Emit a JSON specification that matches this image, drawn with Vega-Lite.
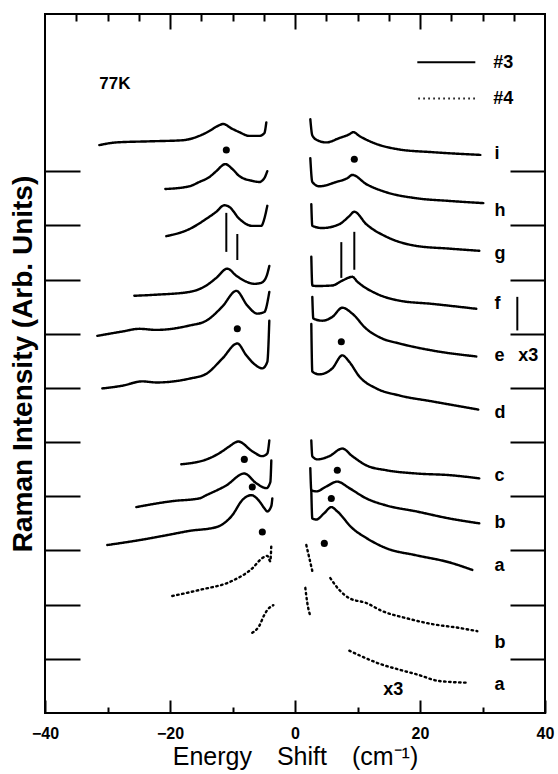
{
  "$schema": "https://vega.github.io/schema/vega-lite/v6.json",
  "width": 500,
  "height": 699,
  "autosize": {"type": "none"},
  "padding": {"left": 45, "top": 14, "right": 13, "bottom": 61},
  "background": "white",
  "config": {
    "view": {"stroke": "#000", "strokeWidth": 2},
    "axis": {"domain": false, "grid": false, "tickColor": "#000", "tickWidth": 2, "labels": false, "title": null}
  },
  "data": {"values": [
      {"k":"c","s":"i3L","g":"#3","x":-31.31,"y":10.48},{"k":"c","s":"i3L","g":"#3","x":-28.59,"y":10.53},{"k":"c","s":"i3L","g":"#3","x":-23.31,"y":10.55},{"k":"c","s":"i3L","g":"#3","x":-18.03,"y":10.57},{"k":"c","s":"i3L","g":"#3","x":-15.31,"y":10.65},{"k":"c","s":"i3L","g":"#3","x":-13.71,"y":10.74},{"k":"c","s":"i3L","g":"#3","x":-12.43,"y":10.83},{"k":"c","s":"i3L","g":"#3","x":-11.47,"y":10.87},{"k":"c","s":"i3L","g":"#3","x":-10.19,"y":10.79},{"k":"c","s":"i3L","g":"#3","x":-8.91,"y":10.72},{"k":"c","s":"i3L","g":"#3","x":-7.31,"y":10.65},{"k":"c","s":"i3L","g":"#3","x":-5.71,"y":10.65},{"k":"c","s":"i3L","g":"#3","x":-4.91,"y":10.70},{"k":"c","s":"i3L","g":"#3","x":-4.59,"y":10.90},
      {"k":"c","s":"i3R","g":"#3","x":2.45,"y":10.96},{"k":"c","s":"i3R","g":"#3","x":2.77,"y":10.66},{"k":"c","s":"i3R","g":"#3","x":3.57,"y":10.57},{"k":"c","s":"i3R","g":"#3","x":5.01,"y":10.53},{"k":"c","s":"i3R","g":"#3","x":7.09,"y":10.61},{"k":"c","s":"i3R","g":"#3","x":8.69,"y":10.68},{"k":"c","s":"i3R","g":"#3","x":9.33,"y":10.72},{"k":"c","s":"i3R","g":"#3","x":10.29,"y":10.65},{"k":"c","s":"i3R","g":"#3","x":12.37,"y":10.53},{"k":"c","s":"i3R","g":"#3","x":16.69,"y":10.40},{"k":"c","s":"i3R","g":"#3","x":21.97,"y":10.35},{"k":"c","s":"i3R","g":"#3","x":29.65,"y":10.30},
      {"k":"c","s":"h3L","g":"#3","x":-20.75,"y":9.67},{"k":"c","s":"h3L","g":"#3","x":-16.91,"y":9.72},{"k":"c","s":"h3L","g":"#3","x":-15.31,"y":9.80},{"k":"c","s":"h3L","g":"#3","x":-13.71,"y":9.89},{"k":"c","s":"h3L","g":"#3","x":-12.59,"y":10.00},{"k":"c","s":"h3L","g":"#3","x":-11.15,"y":10.13},{"k":"c","s":"h3L","g":"#3","x":-10.03,"y":10.04},{"k":"c","s":"h3L","g":"#3","x":-8.91,"y":9.91},{"k":"c","s":"h3L","g":"#3","x":-6.83,"y":9.82},{"k":"c","s":"h3L","g":"#3","x":-5.71,"y":9.80},{"k":"c","s":"h3L","g":"#3","x":-4.91,"y":9.87},{"k":"c","s":"h3L","g":"#3","x":-4.43,"y":10.00},
      {"k":"c","s":"h3R","g":"#3","x":2.45,"y":10.24},{"k":"c","s":"h3R","g":"#3","x":2.77,"y":9.80},{"k":"c","s":"h3R","g":"#3","x":3.89,"y":9.72},{"k":"c","s":"h3R","g":"#3","x":6.61,"y":9.80},{"k":"c","s":"h3R","g":"#3","x":8.37,"y":9.87},{"k":"c","s":"h3R","g":"#3","x":9.17,"y":9.93},{"k":"c","s":"h3R","g":"#3","x":11.41,"y":9.76},{"k":"c","s":"h3R","g":"#3","x":14.61,"y":9.61},{"k":"c","s":"h3R","g":"#3","x":19.41,"y":9.50},{"k":"c","s":"h3R","g":"#3","x":24.69,"y":9.45},{"k":"c","s":"h3R","g":"#3","x":30.13,"y":9.41},
      {"k":"c","s":"g3L","g":"#3","x":-20.59,"y":8.80},{"k":"c","s":"g3L","g":"#3","x":-16.91,"y":8.93},{"k":"c","s":"g3L","g":"#3","x":-14.19,"y":9.12},{"k":"c","s":"g3L","g":"#3","x":-12.59,"y":9.25},{"k":"c","s":"g3L","g":"#3","x":-11.31,"y":9.37},{"k":"c","s":"g3L","g":"#3","x":-10.51,"y":9.34},{"k":"c","s":"g3L","g":"#3","x":-8.91,"y":9.12},{"k":"c","s":"g3L","g":"#3","x":-6.83,"y":8.99},{"k":"c","s":"g3L","g":"#3","x":-5.39,"y":8.99},{"k":"c","s":"g3L","g":"#3","x":-4.91,"y":9.12},{"k":"c","s":"g3L","g":"#3","x":-4.43,"y":9.36},
      {"k":"c","s":"g3R","g":"#3","x":2.61,"y":9.39},{"k":"c","s":"g3R","g":"#3","x":2.77,"y":8.99},{"k":"c","s":"g3R","g":"#3","x":4.37,"y":8.95},{"k":"c","s":"g3R","g":"#3","x":7.09,"y":9.02},{"k":"c","s":"g3R","g":"#3","x":8.69,"y":9.17},{"k":"c","s":"g3R","g":"#3","x":9.49,"y":9.25},{"k":"c","s":"g3R","g":"#3","x":11.41,"y":9.02},{"k":"c","s":"g3R","g":"#3","x":14.61,"y":8.79},{"k":"c","s":"g3R","g":"#3","x":19.41,"y":8.62},{"k":"c","s":"g3R","g":"#3","x":24.69,"y":8.57},{"k":"c","s":"g3R","g":"#3","x":29.49,"y":8.53},
      {"k":"c","s":"f3L","g":"#3","x":-25.71,"y":7.70},{"k":"c","s":"f3L","g":"#3","x":-22.19,"y":7.72},{"k":"c","s":"f3L","g":"#3","x":-16.91,"y":7.77},{"k":"c","s":"f3L","g":"#3","x":-14.19,"y":7.89},{"k":"c","s":"f3L","g":"#3","x":-12.59,"y":8.03},{"k":"c","s":"f3L","g":"#3","x":-10.83,"y":8.20},{"k":"c","s":"f3L","g":"#3","x":-9.39,"y":8.07},{"k":"c","s":"f3L","g":"#3","x":-7.79,"y":7.96},{"k":"c","s":"f3L","g":"#3","x":-6.51,"y":7.92},{"k":"c","s":"f3L","g":"#3","x":-5.39,"y":7.94},{"k":"c","s":"f3L","g":"#3","x":-4.59,"y":8.05},{"k":"c","s":"f3L","g":"#3","x":-4.11,"y":8.25},
      {"k":"c","s":"f3R","g":"#3","x":2.61,"y":8.42},{"k":"c","s":"f3R","g":"#3","x":2.77,"y":7.89},{"k":"c","s":"f3R","g":"#3","x":3.41,"y":7.88},{"k":"c","s":"f3R","g":"#3","x":5.97,"y":7.89},{"k":"c","s":"f3R","g":"#3","x":7.57,"y":7.98},{"k":"c","s":"f3R","g":"#3","x":9.17,"y":8.05},{"k":"c","s":"f3R","g":"#3","x":9.97,"y":7.96},{"k":"c","s":"f3R","g":"#3","x":13.01,"y":7.74},{"k":"c","s":"f3R","g":"#3","x":16.69,"y":7.61},{"k":"c","s":"f3R","g":"#3","x":21.97,"y":7.55},{"k":"c","s":"f3R","g":"#3","x":29.01,"y":7.46},
      {"k":"c","s":"e3L","g":"#3","x":-31.63,"y":6.96},{"k":"c","s":"e3L","g":"#3","x":-27.63,"y":7.04},{"k":"c","s":"e3L","g":"#3","x":-24.91,"y":7.09},{"k":"c","s":"e3L","g":"#3","x":-22.19,"y":7.07},{"k":"c","s":"e3L","g":"#3","x":-16.91,"y":7.15},{"k":"c","s":"e3L","g":"#3","x":-14.19,"y":7.24},{"k":"c","s":"e3L","g":"#3","x":-11.63,"y":7.50},{"k":"c","s":"e3L","g":"#3","x":-9.39,"y":7.79},{"k":"c","s":"e3L","g":"#3","x":-7.63,"y":7.52},{"k":"c","s":"e3L","g":"#3","x":-6.03,"y":7.37},{"k":"c","s":"e3L","g":"#3","x":-4.91,"y":7.40},{"k":"c","s":"e3L","g":"#3","x":-4.11,"y":7.77},
      {"k":"c","s":"e3R","g":"#3","x":2.77,"y":7.68},{"k":"c","s":"e3R","g":"#3","x":2.93,"y":7.28},{"k":"c","s":"e3R","g":"#3","x":4.37,"y":7.24},{"k":"c","s":"e3R","g":"#3","x":5.97,"y":7.31},{"k":"c","s":"e3R","g":"#3","x":7.57,"y":7.48},{"k":"c","s":"e3R","g":"#3","x":9.17,"y":7.37},{"k":"c","s":"e3R","g":"#3","x":11.41,"y":7.09},{"k":"c","s":"e3R","g":"#3","x":13.97,"y":6.91},{"k":"c","s":"e3R","g":"#3","x":16.69,"y":6.82},{"k":"c","s":"e3R","g":"#3","x":21.97,"y":6.69},{"k":"c","s":"e3R","g":"#3","x":29.01,"y":6.58},
      {"k":"c","s":"d3L","g":"#3","x":-30.83,"y":5.99},{"k":"c","s":"d3L","g":"#3","x":-27.63,"y":6.04},{"k":"c","s":"d3L","g":"#3","x":-24.43,"y":6.12},{"k":"c","s":"d3L","g":"#3","x":-22.19,"y":6.10},{"k":"c","s":"d3L","g":"#3","x":-16.91,"y":6.17},{"k":"c","s":"d3L","g":"#3","x":-14.19,"y":6.26},{"k":"c","s":"d3L","g":"#3","x":-11.63,"y":6.54},{"k":"c","s":"d3L","g":"#3","x":-9.23,"y":6.82},{"k":"c","s":"d3L","g":"#3","x":-7.79,"y":6.60},{"k":"c","s":"d3L","g":"#3","x":-6.19,"y":6.41},{"k":"c","s":"d3L","g":"#3","x":-5.23,"y":6.36},{"k":"c","s":"d3L","g":"#3","x":-4.43,"y":6.48},{"k":"c","s":"d3L","g":"#3","x":-4.11,"y":7.24},
      {"k":"c","s":"d3R","g":"#3","x":2.61,"y":7.18},{"k":"c","s":"d3R","g":"#3","x":2.77,"y":6.30},{"k":"c","s":"d3R","g":"#3","x":3.89,"y":6.25},{"k":"c","s":"d3R","g":"#3","x":5.97,"y":6.36},{"k":"c","s":"d3R","g":"#3","x":7.57,"y":6.60},{"k":"c","s":"d3R","g":"#3","x":8.69,"y":6.48},{"k":"c","s":"d3R","g":"#3","x":10.29,"y":6.21},{"k":"c","s":"d3R","g":"#3","x":13.01,"y":5.99},{"k":"c","s":"d3R","g":"#3","x":16.69,"y":5.86},{"k":"c","s":"d3R","g":"#3","x":21.97,"y":5.75},{"k":"c","s":"d3R","g":"#3","x":29.33,"y":5.60},
      {"k":"c","s":"c3L","g":"#3","x":-18.19,"y":4.59},{"k":"c","s":"c3L","g":"#3","x":-13.71,"y":4.70},{"k":"c","s":"c3L","g":"#3","x":-11.63,"y":4.83},{"k":"c","s":"c3L","g":"#3","x":-10.51,"y":4.92},{"k":"c","s":"c3L","g":"#3","x":-9.07,"y":5.01},{"k":"c","s":"c3L","g":"#3","x":-6.83,"y":4.83},{"k":"c","s":"c3L","g":"#3","x":-5.23,"y":4.74},{"k":"c","s":"c3L","g":"#3","x":-4.43,"y":4.79},{"k":"c","s":"c3L","g":"#3","x":-4.11,"y":5.03},
      {"k":"c","s":"c3R","g":"#3","x":2.61,"y":5.03},{"k":"c","s":"c3R","g":"#3","x":2.77,"y":4.74},{"k":"c","s":"c3R","g":"#3","x":3.57,"y":4.68},{"k":"c","s":"c3R","g":"#3","x":5.49,"y":4.74},{"k":"c","s":"c3R","g":"#3","x":7.57,"y":4.88},{"k":"c","s":"c3R","g":"#3","x":9.17,"y":4.74},{"k":"c","s":"c3R","g":"#3","x":11.41,"y":4.57},{"k":"c","s":"c3R","g":"#3","x":14.61,"y":4.48},{"k":"c","s":"c3R","g":"#3","x":19.41,"y":4.42},{"k":"c","s":"c3R","g":"#3","x":24.69,"y":4.39},{"k":"c","s":"c3R","g":"#3","x":29.49,"y":4.33},
      {"k":"c","s":"b3L","g":"#3","x":-25.39,"y":3.80},{"k":"c","s":"b3L","g":"#3","x":-19.63,"y":3.91},{"k":"c","s":"b3L","g":"#3","x":-15.31,"y":3.96},{"k":"c","s":"b3L","g":"#3","x":-14.19,"y":4.02},{"k":"c","s":"b3L","g":"#3","x":-10.99,"y":4.20},{"k":"c","s":"b3L","g":"#3","x":-8.11,"y":4.42},{"k":"c","s":"b3L","g":"#3","x":-6.19,"y":4.24},{"k":"c","s":"b3L","g":"#3","x":-4.59,"y":4.15},{"k":"c","s":"b3L","g":"#3","x":-3.95,"y":4.26},{"k":"c","s":"b3L","g":"#3","x":-3.79,"y":4.66},
      {"k":"c","s":"b3R","g":"#3","x":2.45,"y":4.52},{"k":"c","s":"b3R","g":"#3","x":2.61,"y":4.11},{"k":"c","s":"b3R","g":"#3","x":3.41,"y":4.09},{"k":"c","s":"b3R","g":"#3","x":5.01,"y":4.18},{"k":"c","s":"b3R","g":"#3","x":6.77,"y":4.27},{"k":"c","s":"b3R","g":"#3","x":8.69,"y":4.15},{"k":"c","s":"b3R","g":"#3","x":11.41,"y":3.96},{"k":"c","s":"b3R","g":"#3","x":14.61,"y":3.83},{"k":"c","s":"b3R","g":"#3","x":19.41,"y":3.72},{"k":"c","s":"b3R","g":"#3","x":24.69,"y":3.59},{"k":"c","s":"b3R","g":"#3","x":29.49,"y":3.50},
      {"k":"c","s":"a3L","g":"#3","x":-30.03,"y":3.10},{"k":"c","s":"a3L","g":"#3","x":-24.91,"y":3.19},{"k":"c","s":"a3L","g":"#3","x":-20.59,"y":3.28},{"k":"c","s":"a3L","g":"#3","x":-16.91,"y":3.36},{"k":"c","s":"a3L","g":"#3","x":-12.59,"y":3.43},{"k":"c","s":"a3L","g":"#3","x":-10.03,"y":3.65},{"k":"c","s":"a3L","g":"#3","x":-8.43,"y":3.93},{"k":"c","s":"a3L","g":"#3","x":-6.99,"y":4.02},{"k":"c","s":"a3L","g":"#3","x":-5.71,"y":3.91},{"k":"c","s":"a3L","g":"#3","x":-4.91,"y":3.78},{"k":"c","s":"a3L","g":"#3","x":-4.43,"y":3.72},{"k":"c","s":"a3L","g":"#3","x":-3.79,"y":3.82},{"k":"c","s":"a3L","g":"#3","x":-3.63,"y":3.96},
      {"k":"c","s":"a3R","g":"#3","x":2.61,"y":4.11},{"k":"c","s":"a3R","g":"#3","x":2.77,"y":3.59},{"k":"c","s":"a3R","g":"#3","x":3.41,"y":3.57},{"k":"c","s":"a3R","g":"#3","x":4.69,"y":3.69},{"k":"c","s":"a3R","g":"#3","x":5.81,"y":3.80},{"k":"c","s":"a3R","g":"#3","x":6.77,"y":3.72},{"k":"c","s":"a3R","g":"#3","x":9.17,"y":3.41},{"k":"c","s":"a3R","g":"#3","x":11.41,"y":3.23},{"k":"c","s":"a3R","g":"#3","x":14.61,"y":3.04},{"k":"c","s":"a3R","g":"#3","x":19.41,"y":2.91},{"k":"c","s":"a3R","g":"#3","x":24.69,"y":2.78},{"k":"c","s":"a3R","g":"#3","x":28.37,"y":2.64},
      {"k":"c","s":"b4L","g":"#4","x":-19.63,"y":2.16},{"k":"c","s":"b4L","g":"#4","x":-15.31,"y":2.27},{"k":"c","s":"b4L","g":"#4","x":-10.03,"y":2.44},{"k":"c","s":"b4L","g":"#4","x":-6.83,"y":2.67},{"k":"c","s":"b4L","g":"#4","x":-5.23,"y":2.86},{"k":"c","s":"b4L","g":"#4","x":-4.43,"y":2.90},{"k":"c","s":"b4L","g":"#4","x":-3.95,"y":2.80},{"k":"c","s":"b4L","g":"#4","x":-3.79,"y":3.10},
      {"k":"c","s":"a4L","g":"#4","x":-6.83,"y":1.48},{"k":"c","s":"a4L","g":"#4","x":-5.71,"y":1.61},{"k":"c","s":"a4L","g":"#4","x":-4.91,"y":1.81},{"k":"c","s":"a4L","g":"#4","x":-4.43,"y":1.90},{"k":"c","s":"a4L","g":"#4","x":-3.47,"y":1.99},
      {"k":"c","s":"b4Rv","g":"#4","x":1.81,"y":3.10},{"k":"c","s":"b4Rv","g":"#4","x":2.29,"y":2.86},{"k":"c","s":"b4Rv","g":"#4","x":2.77,"y":2.62},
      {"k":"c","s":"b4R","g":"#4","x":5.65,"y":2.49},{"k":"c","s":"b4R","g":"#4","x":7.09,"y":2.27},{"k":"c","s":"b4R","g":"#4","x":8.69,"y":2.12},{"k":"c","s":"b4R","g":"#4","x":11.41,"y":2.03},{"k":"c","s":"b4R","g":"#4","x":13.97,"y":1.88},{"k":"c","s":"b4R","g":"#4","x":17.81,"y":1.75},{"k":"c","s":"b4R","g":"#4","x":21.97,"y":1.64},{"k":"c","s":"b4R","g":"#4","x":26.29,"y":1.57},{"k":"c","s":"b4R","g":"#4","x":29.17,"y":1.51},
      {"k":"c","s":"a4Rv","g":"#4","x":1.65,"y":2.31},{"k":"c","s":"a4Rv","g":"#4","x":1.97,"y":2.03},{"k":"c","s":"a4Rv","g":"#4","x":2.45,"y":1.79},
      {"k":"c","s":"a4R","g":"#4","x":8.69,"y":1.15},{"k":"c","s":"a4R","g":"#4","x":10.77,"y":1.04},{"k":"c","s":"a4R","g":"#4","x":13.49,"y":0.91},{"k":"c","s":"a4R","g":"#4","x":16.69,"y":0.80},{"k":"c","s":"a4R","g":"#4","x":19.57,"y":0.71},{"k":"c","s":"a4R","g":"#4","x":23.09,"y":0.59},{"k":"c","s":"a4R","g":"#4","x":27.41,"y":0.56},
      {"k":"d","x":-10.99,"y":10.39},{"k":"d","x":9.49,"y":10.22},{"k":"d","x":-9.23,"y":7.09},{"k":"d","x":7.41,"y":6.85},{"k":"d","x":-8.11,"y":4.68},{"k":"d","x":6.77,"y":4.48},{"k":"d","x":-6.83,"y":4.17},{"k":"d","x":5.81,"y":3.96},{"k":"d","x":-5.23,"y":3.34},{"k":"d","x":4.69,"y":3.13},
      {"k":"b","x":-10.99,"y":9.23,"y2":8.51},{"k":"b","x":-9.23,"y":8.84,"y2":8.36},{"k":"b","x":7.41,"y":8.69,"y2":8.03},{"k":"b","x":9.49,"y":8.88,"y2":8.18},{"k":"b","x":35.57,"y":7.68,"y2":7.06},
      {"k":"L","t":"i","x":31.9,"y":10.22},{"k":"L","t":"h","x":31.9,"y":9.17},{"k":"L","t":"g","x":31.9,"y":8.38},{"k":"L","t":"f","x":31.9,"y":7.46},{"k":"L","t":"e","x":31.9,"y":6.50},{"k":"L","t":"d","x":31.9,"y":5.44},{"k":"L","t":"c","x":31.9,"y":4.29},{"k":"L","t":"b","x":31.9,"y":3.41},{"k":"L","t":"a","x":31.9,"y":2.62},{"k":"L","t":"b","x":31.9,"y":1.20},{"k":"L","t":"a","x":31.9,"y":0.43},{"k":"L","t":"x3","x":35.73,"y":6.50},{"k":"L","t":"x3","x":14.13,"y":0.34},{"k":"L","t":"#3","x":31.73,"y":11.90},{"k":"L","t":"#4","x":31.73,"y":11.23},
      {"k":"n","t":"77K","x":-31.31,"y":11.51},
      {"k":"g","g":"#3","x":19.57,"x2":28.85,"y":12.01},{"k":"g","g":"#4","x":19.73,"x2":28.85,"y":11.34}
  ]},
  "layer": [
    {
      "transform": [{"filter": "datum.k === 'd'"}],
      "mark": {"type": "point", "filled": true, "size": 50, "color": "#000", "opacity": 1},
      "encoding": {
        "x": {"field": "x", "type": "quantitative", "scale": {"domain": [-40, 40], "nice": false},
              "axis": {"orient": "bottom", "values": [-40, -20, 0, 20, 40], "tickSize": -13, "tickColor": "black", "tickOpacity": 1, "zindex": 2}},
        "y": {"field": "y", "type": "quantitative", "scale": {"domain": [0, 12.9], "nice": false},
              "axis": {"orient": "left", "values": [1, 2, 3, 4, 5, 6, 7, 8, 9, 10], "tickSize": -35}}
      }
    },
    {
      "transform": [{"filter": "datum.k === 'b'"}],
      "mark": {"type": "rule", "strokeWidth": 2, "color": "#000"},
      "encoding": {
        "x": {"field": "x", "type": "quantitative", "scale": {"domain": [-40, 40], "nice": false},
              "axis": {"orient": "bottom", "values": [-30, -10, 10, 30], "tickSize": -6, "tickColor": "black", "tickOpacity": 1, "zindex": 2}},
        "y": {"field": "y", "type": "quantitative", "scale": {"domain": [0, 12.9], "nice": false},
              "axis": {"orient": "right", "values": [1, 2, 3, 4, 5, 6, 7, 8, 9, 10], "tickSize": -35}},
        "y2": {"field": "y2"}
      }
    },
    {
      "transform": [{"filter": "datum.k === 'L'"}],
      "mark": {"type": "text", "align": "left", "baseline": "alphabetic", "fontSize": 18, "fontWeight": "bold", "font": "Liberation Sans", "color": "#000"},
      "encoding": {
        "x": {"field": "x", "type": "quantitative", "scale": {"domain": [-40, 40], "nice": false},
              "axis": {"orient": "top", "values": [-20, 0, 20], "tickSize": -15, "tickColor": "black", "tickOpacity": 1, "zindex": 2}},
        "y": {"field": "y", "type": "quantitative", "scale": {"domain": [0, 12.9], "nice": false}, "axis": null},
        "text": {"field": "t"}
      }
    },
    {
      "transform": [{"filter": "datum.k === 'n'"}],
      "mark": {"type": "text", "align": "left", "baseline": "alphabetic", "fontSize": 17, "fontWeight": "bold", "font": "Liberation Sans", "color": "#000"},
      "encoding": {
        "x": {"field": "x", "type": "quantitative", "scale": {"domain": [-40, 40], "nice": false},
              "axis": {"orient": "top", "values": [-35, -30, -25, -15, -10, -5, 5, 10, 15, 25, 30, 35], "tickSize": -7, "tickColor": "black", "tickOpacity": 1, "zindex": 2}},
        "y": {"field": "y", "type": "quantitative", "scale": {"domain": [0, 12.9], "nice": false}, "axis": null},
        "text": {"field": "t"}
      }
    },
    {
      "transform": [{"filter": "datum.k === 'c'"}],
      "mark": {"type": "line", "strokeWidth": 2.4, "color": "#000", "strokeCap": "round", "strokeJoin": "round", "interpolate": "monotone"},
      "encoding": {
        "x": {"field": "x", "type": "quantitative", "scale": {"domain": [-40, 40], "nice": false},
              "axis": {"orient": "bottom", "values": [-40, -20, 0, 20, 40], "ticks": false, "labels": true, "labelColor": "#000", "labelFont": "Liberation Sans", "labelFontSize": 16, "labelFontWeight": "bold", "labelPadding": 12, "labelFlush": false, "labelOverlap": false, "title": "Energy\u2003Shift\u2003(cm\u207b\u00b9)", "titleColor": "#000", "titleFont": "Liberation Sans", "titleFontSize": 25, "titleFontWeight": "normal", "titlePadding": 3}},
        "y": {"field": "y", "type": "quantitative", "scale": {"domain": [0, 12.9], "nice": false},
              "axis": {"orient": "left", "ticks": false, "title": "Raman Intensity (Arb. Units)", "titleColor": "#000", "titleFont": "Liberation Sans", "titleFontSize": 28, "titleFontWeight": "bold", "titlePadding": 8}},
        "detail": {"field": "s"},
        "strokeDash": {"field": "g", "type": "nominal", "scale": {"domain": ["#3", "#4"], "range": [[1, 0], [1.5, 3.5]]}, "legend": null}
      }
    },
    {
      "transform": [{"filter": "datum.k === 'g'"}],
      "mark": {"type": "rule", "strokeWidth": 2, "color": "#000"},
      "encoding": {
        "x": {"field": "x", "type": "quantitative", "scale": {"domain": [-40, 40], "nice": false}, "axis": null},
        "x2": {"field": "x2"},
        "y": {"field": "y", "type": "quantitative", "scale": {"domain": [0, 12.9], "nice": false}, "axis": null},
        "strokeDash": {"field": "g", "type": "nominal", "scale": {"domain": ["#3", "#4"], "range": [[1, 0], [1.5, 3.5]]}, "legend": null}
      }
    }
  ],
  "resolve": {"axis": {"x": "independent", "y": "independent"}}
}
